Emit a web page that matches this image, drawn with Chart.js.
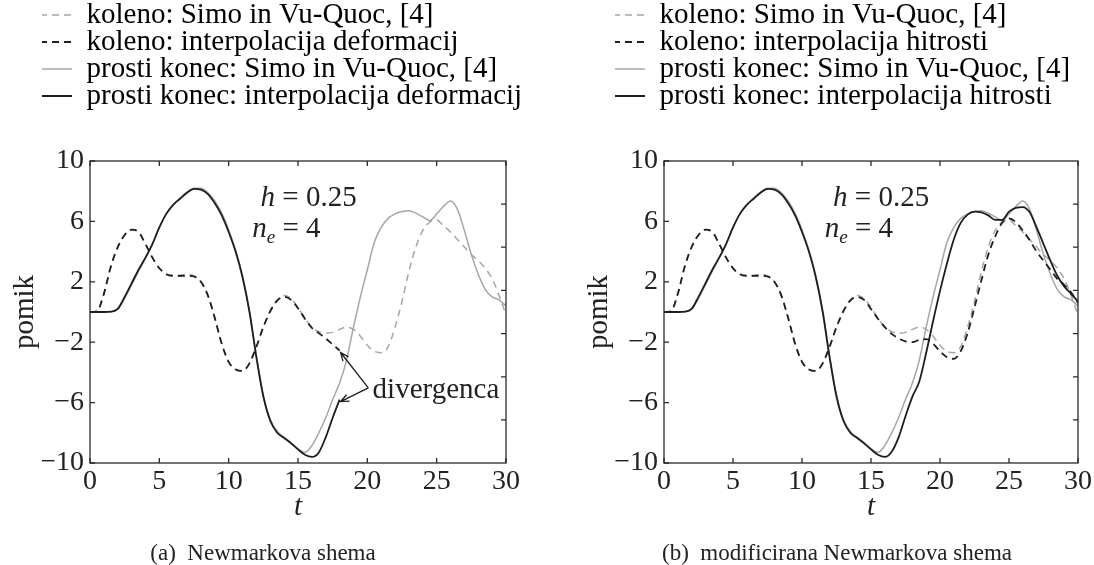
<!DOCTYPE html>
<html>
<head>
<meta charset="utf-8">
<script src="https://cdn.jsdelivr.net/npm/chart.js@4.4.1/dist/chart.umd.min.js"></script>
<style>
  html, body { margin: 0; padding: 0; background: #fff; }
  body { width: 1094px; height: 565px; position: relative; overflow: hidden; }
  .panel { position: absolute; top: 0; width: 547px; height: 565px; }
  #panelA { left: 0; }
  #panelB { left: 547px; }
</style>
</head>
<body>
<div class="panel" id="panelA"><canvas id="chartA"></canvas></div>
<div class="panel" id="panelB"><canvas id="chartB"></canvas></div>
<script>
// time grid, shared by all series
const tGrid = [0, 0.5, 1, 1.5, 2, 2.5, 3, 3.5, 4, 4.5, 5, 5.5, 6, 6.5, 7, 7.5, 8, 8.5, 9, 9.5,
  10, 10.5, 11, 11.5, 12, 12.5, 13, 13.5, 14, 14.5, 15, 15.5, 16, 16.5, 17, 17.5, 18, 18.5, 19, 19.5,
  20, 20.5, 21, 21.5, 22, 22.5, 23, 23.5, 24, 24.5, 25, 25.5, 26, 26.5, 27, 27.5, 28, 28.5, 29, 29.5, 30];

// koleno (knee) - reference solution
const kolenoSimo = [0, 0.05, 1.2, 3.0, 4.3, 5.1, 5.45, 5.3, 4.5, 3.6, 2.9, 2.5, 2.4, 2.4, 2.5, 2.4, 2.0, 1.1, -0.4, -2.1,
  -3.3, -3.8, -3.9, -3.4, -2.3, -1.0, 0.1, 0.8, 1.1, 0.9, 0.3, -0.4, -1.0, -1.3, -1.4, -1.35, -1.15, -1.0, -1.15, -1.6,
  -2.2, -2.6, -2.7, -2.3, -1.0, 0.7, 2.7, 4.3, 5.4, 5.95, 6.1, 5.7, 5.3, 4.8, 4.3, 3.8, 3.4, 2.9, 2.2, 1.1, -0.2];
// koleno - strain interpolation (diverges at t = 18)
const kolenoDeform = [0, 0.05, 1.2, 3.0, 4.3, 5.1, 5.45, 5.3, 4.5, 3.6, 2.9, 2.5, 2.4, 2.4, 2.4, 2.35, 2.0, 1.1, -0.4, -2.1,
  -3.3, -3.8, -3.9, -3.4, -2.3, -1.0, 0.05, 0.75, 1.0, 0.8, 0.25, -0.45, -1.05, -1.4, -1.75, -2.15, -2.55];
// koleno - velocity interpolation
const kolenoHitrost = [0, 0.05, 1.2, 3.0, 4.3, 5.1, 5.45, 5.3, 4.5, 3.6, 2.9, 2.5, 2.4, 2.4, 2.4, 2.35, 2.0, 1.1, -0.4, -2.1,
  -3.3, -3.8, -3.9, -3.4, -2.3, -1.0, 0.05, 0.75, 1.0, 0.8, 0.2, -0.45, -1.0, -1.45, -1.75, -1.95, -2.0, -1.85, -1.8, -2.1,
  -2.6, -3.0, -3.1, -2.6, -1.4, 0.3, 2.1, 3.8, 5.0, 5.9, 6.2, 5.95, 5.4, 4.75, 4.0, 3.4, 2.8, 2.2, 1.8, 1.3, 0.6];

// prosti konec (free end) - reference solution
const prostiSimo = [0, 0, 0, 0.02, 0.2, 0.9, 1.8, 2.7, 3.6, 4.5, 5.6, 6.5, 7.1, 7.55, 7.95, 8.2, 8.2, 7.9, 7.35, 6.55,
  5.45, 4.1, 2.4, 0.1, -2.9, -5.5, -7.1, -7.9, -8.3, -8.65, -9.05, -9.3, -8.85, -8.0, -7.0, -5.8, -4.7, -3.2, -1.0, 1.0,
  2.8, 4.6, 5.6, 6.2, 6.5, 6.65, 6.7, 6.55, 6.3, 6.05, 6.5, 7.0, 7.35, 6.8, 5.4, 3.8, 2.5, 1.5, 1.0, 0.8, 0.4];
// prosti konec - strain interpolation (diverges at t = 18)
const prostiDeform = [0, 0, 0, 0.02, 0.2, 1.0, 1.9, 2.8, 3.6, 4.5, 5.6, 6.5, 7.1, 7.5, 7.9, 8.15, 8.1, 7.8, 7.2, 6.4,
  5.3, 4.0, 2.3, 0.0, -3.0, -5.6, -7.2, -8.0, -8.35, -8.7, -9.1, -9.45, -9.6, -9.3, -8.3, -7.0, -5.8];
// prosti konec - velocity interpolation
const prostiHitrost = [0, 0, 0, 0.02, 0.2, 1.0, 1.9, 2.8, 3.6, 4.5, 5.6, 6.5, 7.1, 7.5, 7.9, 8.15, 8.1, 7.8, 7.2, 6.4,
  5.3, 4.0, 2.3, 0.0, -3.0, -5.6, -7.2, -8.0, -8.35, -8.7, -9.1, -9.45, -9.6, -9.25, -8.3, -6.9, -5.6, -4.6, -2.7, -0.6,
  1.4, 3.2, 4.8, 5.9, 6.45, 6.65, 6.6, 6.4, 6.1, 6.1, 6.65, 6.9, 6.95, 6.6, 5.6, 4.5, 3.4, 2.4, 1.7, 1.2, 0.7];

const xTicks = [0, 5, 10, 15, 20, 25, 30];
const yTicks = [-10, -6, -2, 2, 6, 10];
const rightTicks = [-7.14, -4.29, -1.43, 1.43, 4.29, 7.14];

const labelsA = ['koleno: Simo in Vu-Quoc, [4]', 'koleno: interpolacija deformacij',
  'prosti konec: Simo in Vu-Quoc, [4]', 'prosti konec: interpolacija deformacij'];
const labelsB = ['koleno: Simo in Vu-Quoc, [4]', 'koleno: interpolacija hitrosti',
  'prosti konec: Simo in Vu-Quoc, [4]', 'prosti konec: interpolacija hitrosti'];

Chart.defaults.font.family = '"Liberation Serif", "Times New Roman", serif';
Chart.defaults.color = '#222';
Chart.defaults.animation = false;

const GRAY = '#a6a6a6';
const BLACK = '#1e1e1e';
const SERIF = '"Liberation Serif", serif';

function series(label, values, color, dashed) {
  return {
    label: label,
    data: values.map((v, i) => ({ x: tGrid[i], y: v })),
    borderColor: color,
    backgroundColor: color,
    borderWidth: color === BLACK ? 1.8 : 1.5,
    borderDash: dashed ? [7, 5] : [],
    pointRadius: 0,
    cubicInterpolationMode: 'monotone',
    fill: false,
    order: color === BLACK ? 0 : 1
  };
}

function arrow(ctx, x1, y1, x2, y2) {
  const a = Math.atan2(y2 - y1, x2 - x1);
  ctx.beginPath();
  ctx.moveTo(x1, y1);
  ctx.lineTo(x2, y2);
  ctx.moveTo(x2 - 9 * Math.cos(a - 0.4), y2 - 9 * Math.sin(a - 0.4));
  ctx.lineTo(x2, y2);
  ctx.lineTo(x2 - 9 * Math.cos(a + 0.4), y2 - 9 * Math.sin(a + 0.4));
  ctx.stroke();
}

// box, inward ticks, annotations and caption
const frame = {
  id: 'frame',
  afterDraw(chart) {
    const { ctx, chartArea: a } = chart;
    const x = chart.scales.x, y = chart.scales.y;
    const o = chart.options.plugins.frame;
    ctx.save();
    ctx.strokeStyle = '#2a2a2a';
    ctx.lineWidth = 1.3;
    ctx.strokeRect(a.left, a.top, a.right - a.left, a.bottom - a.top);
    ctx.beginPath();
    xTicks.forEach(v => {
      const px = x.getPixelForValue(v);
      ctx.moveTo(px, a.bottom); ctx.lineTo(px, a.bottom - 5);
      ctx.moveTo(px, a.top); ctx.lineTo(px, a.top + 5);
    });
    yTicks.forEach(v => {
      const py = y.getPixelForValue(v);
      ctx.moveTo(a.left, py); ctx.lineTo(a.left + 5, py);
    });
    rightTicks.forEach(v => {
      const py = y.getPixelForValue(v);
      ctx.moveTo(a.right, py); ctx.lineTo(a.right - 5, py);
    });
    ctx.stroke();

    ctx.fillStyle = '#222';
    ctx.textAlign = 'left';
    ctx.textBaseline = 'alphabetic';
    // h = 0.25
    let px = x.getPixelForValue(o.hAt[0]), py = y.getPixelForValue(o.hAt[1]);
    ctx.font = 'italic 29px ' + SERIF;
    ctx.fillText('h', px, py);
    let w = ctx.measureText('h').width;
    ctx.font = '29px ' + SERIF;
    ctx.fillText(' = 0.25', px + w, py);
    // n_e = 4
    px = x.getPixelForValue(o.nAt[0]); py = y.getPixelForValue(o.nAt[1]);
    ctx.font = 'italic 29px ' + SERIF;
    ctx.fillText('n', px, py);
    w = ctx.measureText('n').width;
    ctx.font = 'italic 19px ' + SERIF;
    ctx.fillText('e', px + w, py + 6);
    w += ctx.measureText('e').width;
    ctx.font = '29px ' + SERIF;
    ctx.fillText(' = 4', px + w, py);

    if (o.divergence) {
      const d = o.divergence;
      ctx.font = '29px ' + SERIF;
      ctx.textBaseline = 'middle';
      ctx.fillText('divergenca', x.getPixelForValue(d.textAt[0]), y.getPixelForValue(d.textAt[1]));
      ctx.strokeStyle = '#1e1e1e';
      ctx.lineWidth = 1.3;
      const tx = x.getPixelForValue(d.tail[0]), ty = y.getPixelForValue(d.tail[1]);
      d.datasets.forEach(idx => {
        const pts = chart.getDatasetMeta(idx).data;
        const last = pts[pts.length - 1];
        arrow(ctx, tx, ty, last.x + 1, last.y + 2);
      });
    }

    ctx.font = '23px ' + SERIF;
    ctx.textAlign = 'center';
    ctx.textBaseline = 'middle';
    ctx.fillText(o.caption, a.left + 173, 554);
    ctx.restore();
  }
};

function makeChart(id, labels, kolenoNum, prostiNum, layout, extra) {
  const datasets = [
    series(labels[0], kolenoSimo, GRAY, true),
    series(labels[1], kolenoNum, BLACK, true),
    series(labels[2], prostiSimo, GRAY, false),
    series(labels[3], prostiNum, BLACK, false)
  ];
  return new Chart(document.getElementById(id), {
    type: 'line',
    data: { datasets: datasets },
    plugins: [frame],
    options: {
      responsive: true,
      maintainAspectRatio: false,
      events: [],
      layout: { padding: { left: layout.padLeft, right: 2, top: 2.5, bottom: 0 } },
      plugins: {
        tooltip: { enabled: false },
        legend: {
          position: 'top',
          align: 'start',
          labels: {
            usePointStyle: true,
            pointStyle: 'line',
            pointStyleWidth: 32,
            padding: -2,
            color: '#222',
            font: { size: 29 },
            generateLabels: chart => chart.data.datasets.map((ds, i) => ({
              text: ds.label,
              strokeStyle: ds.borderColor,
              fillStyle: ds.borderColor,
              lineWidth: ds.borderWidth,
              lineDash: ds.borderDash,
              pointStyle: 'line',
              hidden: false,
              datasetIndex: i
            }))
          }
        },
        frame: extra
      },
      scales: {
        x: {
          type: 'linear', min: 0, max: 30,
          ticks: { stepSize: 5, padding: 2, maxRotation: 0, autoSkip: false, font: { size: 28 } },
          grid: { display: false, drawTicks: false },
          border: { display: false },
          title: { display: true, text: 't', font: { size: 29, style: 'italic' }, padding: { top: 0, bottom: 40.6 } },
          afterFit: s => { s.height = 102; }
        },
        xTop: {
          type: 'linear', position: 'top', min: 0, max: 30,
          ticks: { display: false },
          grid: { display: false, drawTicks: false },
          border: { display: false },
          afterFit: s => { s.height = 40.5; }
        },
        y: {
          min: -10, max: 10,
          afterBuildTicks: s => { s.ticks = yTicks.map(v => ({ value: v })); },
          ticks: {
            padding: 6,
            font: { size: 28 },
            callback: v => v < 0 ? '\u2212' + Math.abs(v) : String(v)
          },
          grid: { display: false, drawTicks: false },
          border: { display: false },
          title: { display: true, text: 'pomik', font: { size: 29 }, padding: { top: layout.titlePad, bottom: 0 } },
          afterFit: s => { s.width = layout.axisWidth; }
        },
        yRight: {
          position: 'right', min: -10, max: 10,
          ticks: { display: false },
          grid: { display: false, drawTicks: false },
          border: { display: false },
          afterFit: s => { s.width = layout.rightSpace; }
        }
      }
    }
  });
}

makeChart('chartA', labelsA, kolenoDeform, prostiDeform,
  { padLeft: 42, axisWidth: 48, rightSpace: 39, titlePad: -34.4 },
  {
    caption: '(a)\u2002Newmarkova shema',
    hAt: [12.3, 7.0], nAt: [11.7, 5.0],
    divergence: { textAt: [20.38, -5.17], tail: [20.07, -5.03], datasets: [1, 3] }
  });

makeChart('chartB', labelsB, kolenoHitrost, prostiHitrost,
  { padLeft: 68, axisWidth: 49, rightSpace: 13, titlePad: -33.4 },
  {
    caption: '(b)\u2002modificirana Newmarkova shema',
    hAt: [12.25, 7.0], nAt: [11.65, 5.0],
    divergence: null
  });
</script>
</body>
</html>
